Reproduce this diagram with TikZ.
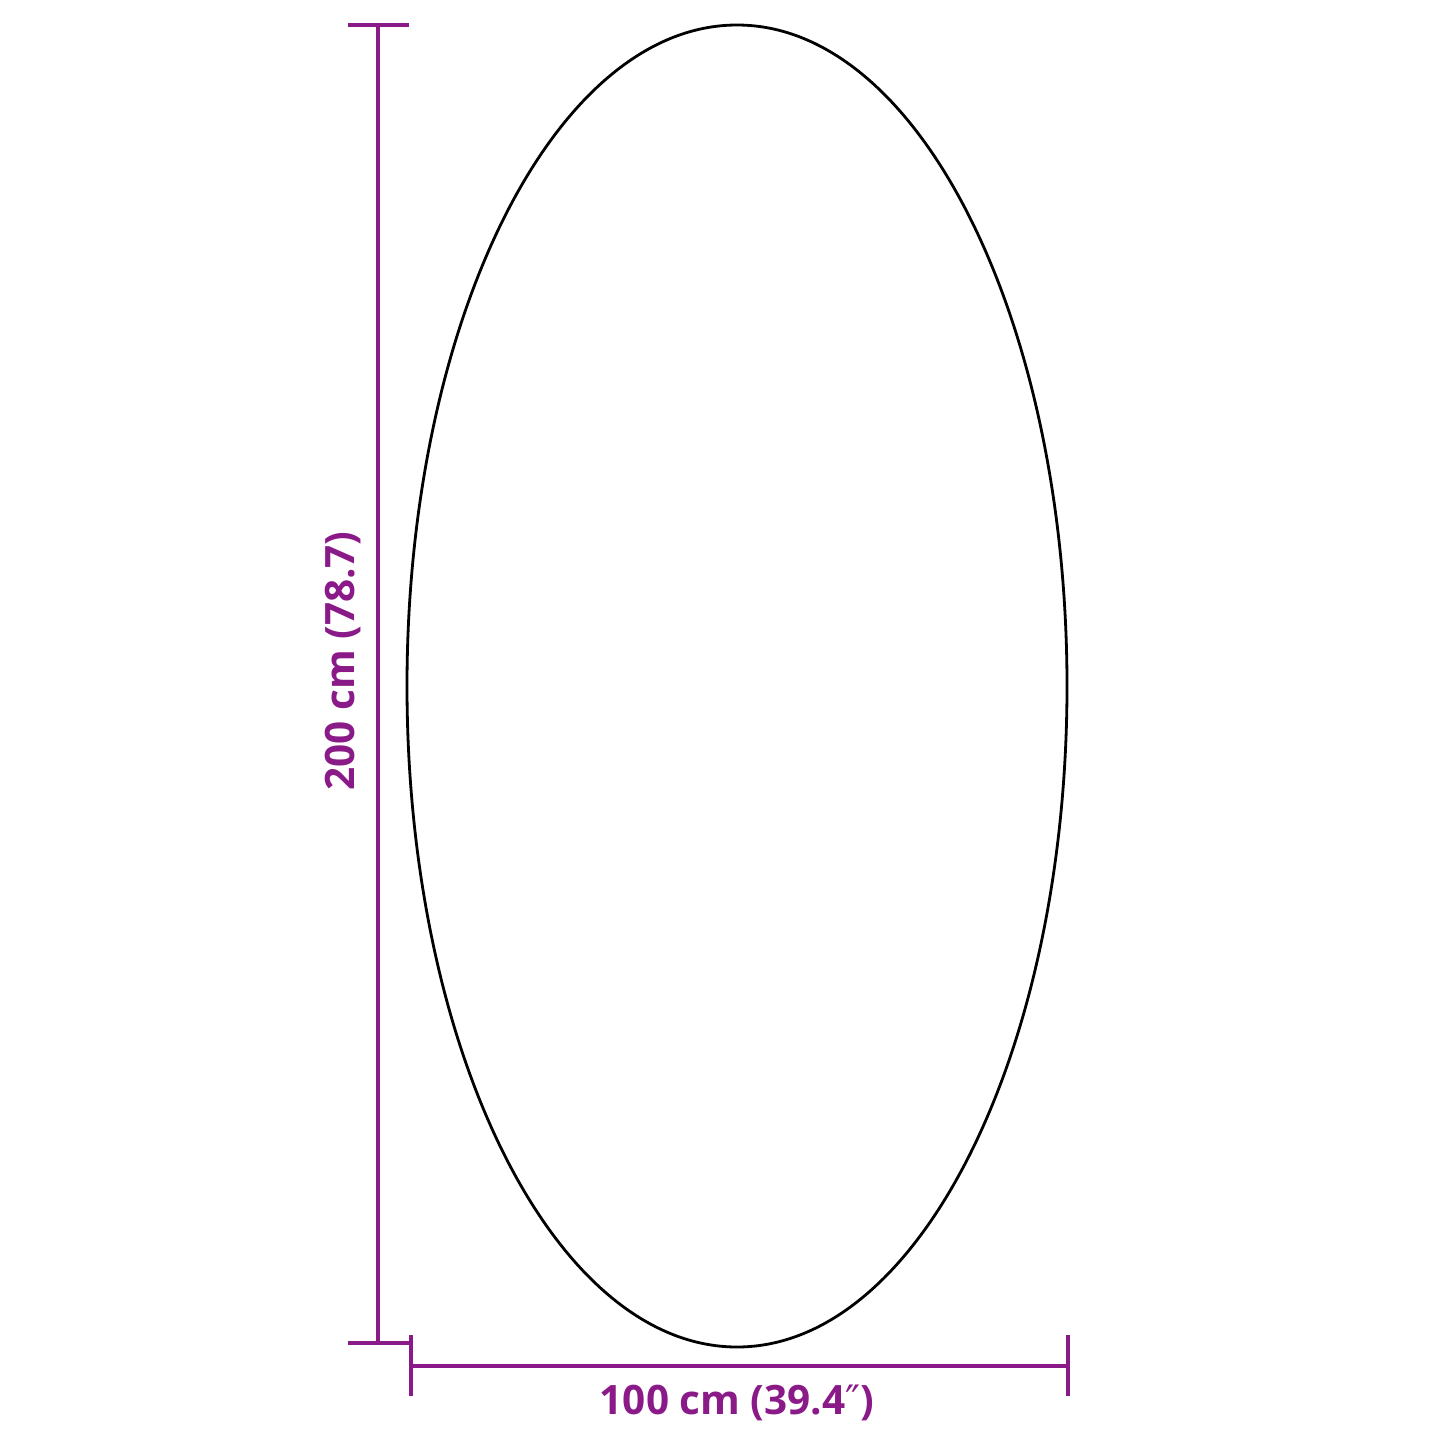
\documentclass[tikz,border=0pt]{standalone}
\usepackage{fontspec}
\setmainfont{Open Sans}
\newfontfamily\primefont{DejaVu Sans}
\usepackage{tikz}
\usetikzlibrary{positioning,shapes.geometric}
\definecolor{dimpurple}{RGB}{139,26,137}

\begin{document}
\begin{tikzpicture}[x=1pt, y=-1pt,
    dimline/.style={draw=dimpurple, line width=4pt},
    dimlabel/.style={text=dimpurple, font=\fontsize{40.5}{46}\selectfont\bfseries, inner sep=0pt}]
    \useasboundingbox (0,0) rectangle (1445,1445);

    % the mirror
    \node[draw, ellipse, line width=2.8pt, inner sep=0pt,
        minimum width=660pt, minimum height=1322pt
    ](mirror) at (737,686) {};

    % height
    \coordinate (htop) at (378,25);
    \coordinate (hbot) at (378,1343);
    \draw[dimline] (htop) -- (hbot);
    \draw[dimline] ([xshift=-30pt]htop) -- ([xshift=31pt]htop);
    \draw[dimline] ([xshift=-30pt]hbot) -- ([xshift=32pt]hbot);
    \node[dimlabel, rotate=90](hlabel) at (343,661) {200 cm (78.7)};

    % width
    \coordinate (wleft) at (411,1366);
    \coordinate (wright) at (1068,1366);
    \draw[dimline] (wleft) -- (wright);
    \draw[dimline] ([yshift=-30pt]wleft) -- ([yshift=31pt]wleft);
    \draw[dimline] ([yshift=-30pt]wright) -- ([yshift=31pt]wright);
    \node[dimlabel](wlabel) at (737,1403) {100 cm (39.4{\primefont\mdseries ″})};
\end{tikzpicture}
\end{document}
